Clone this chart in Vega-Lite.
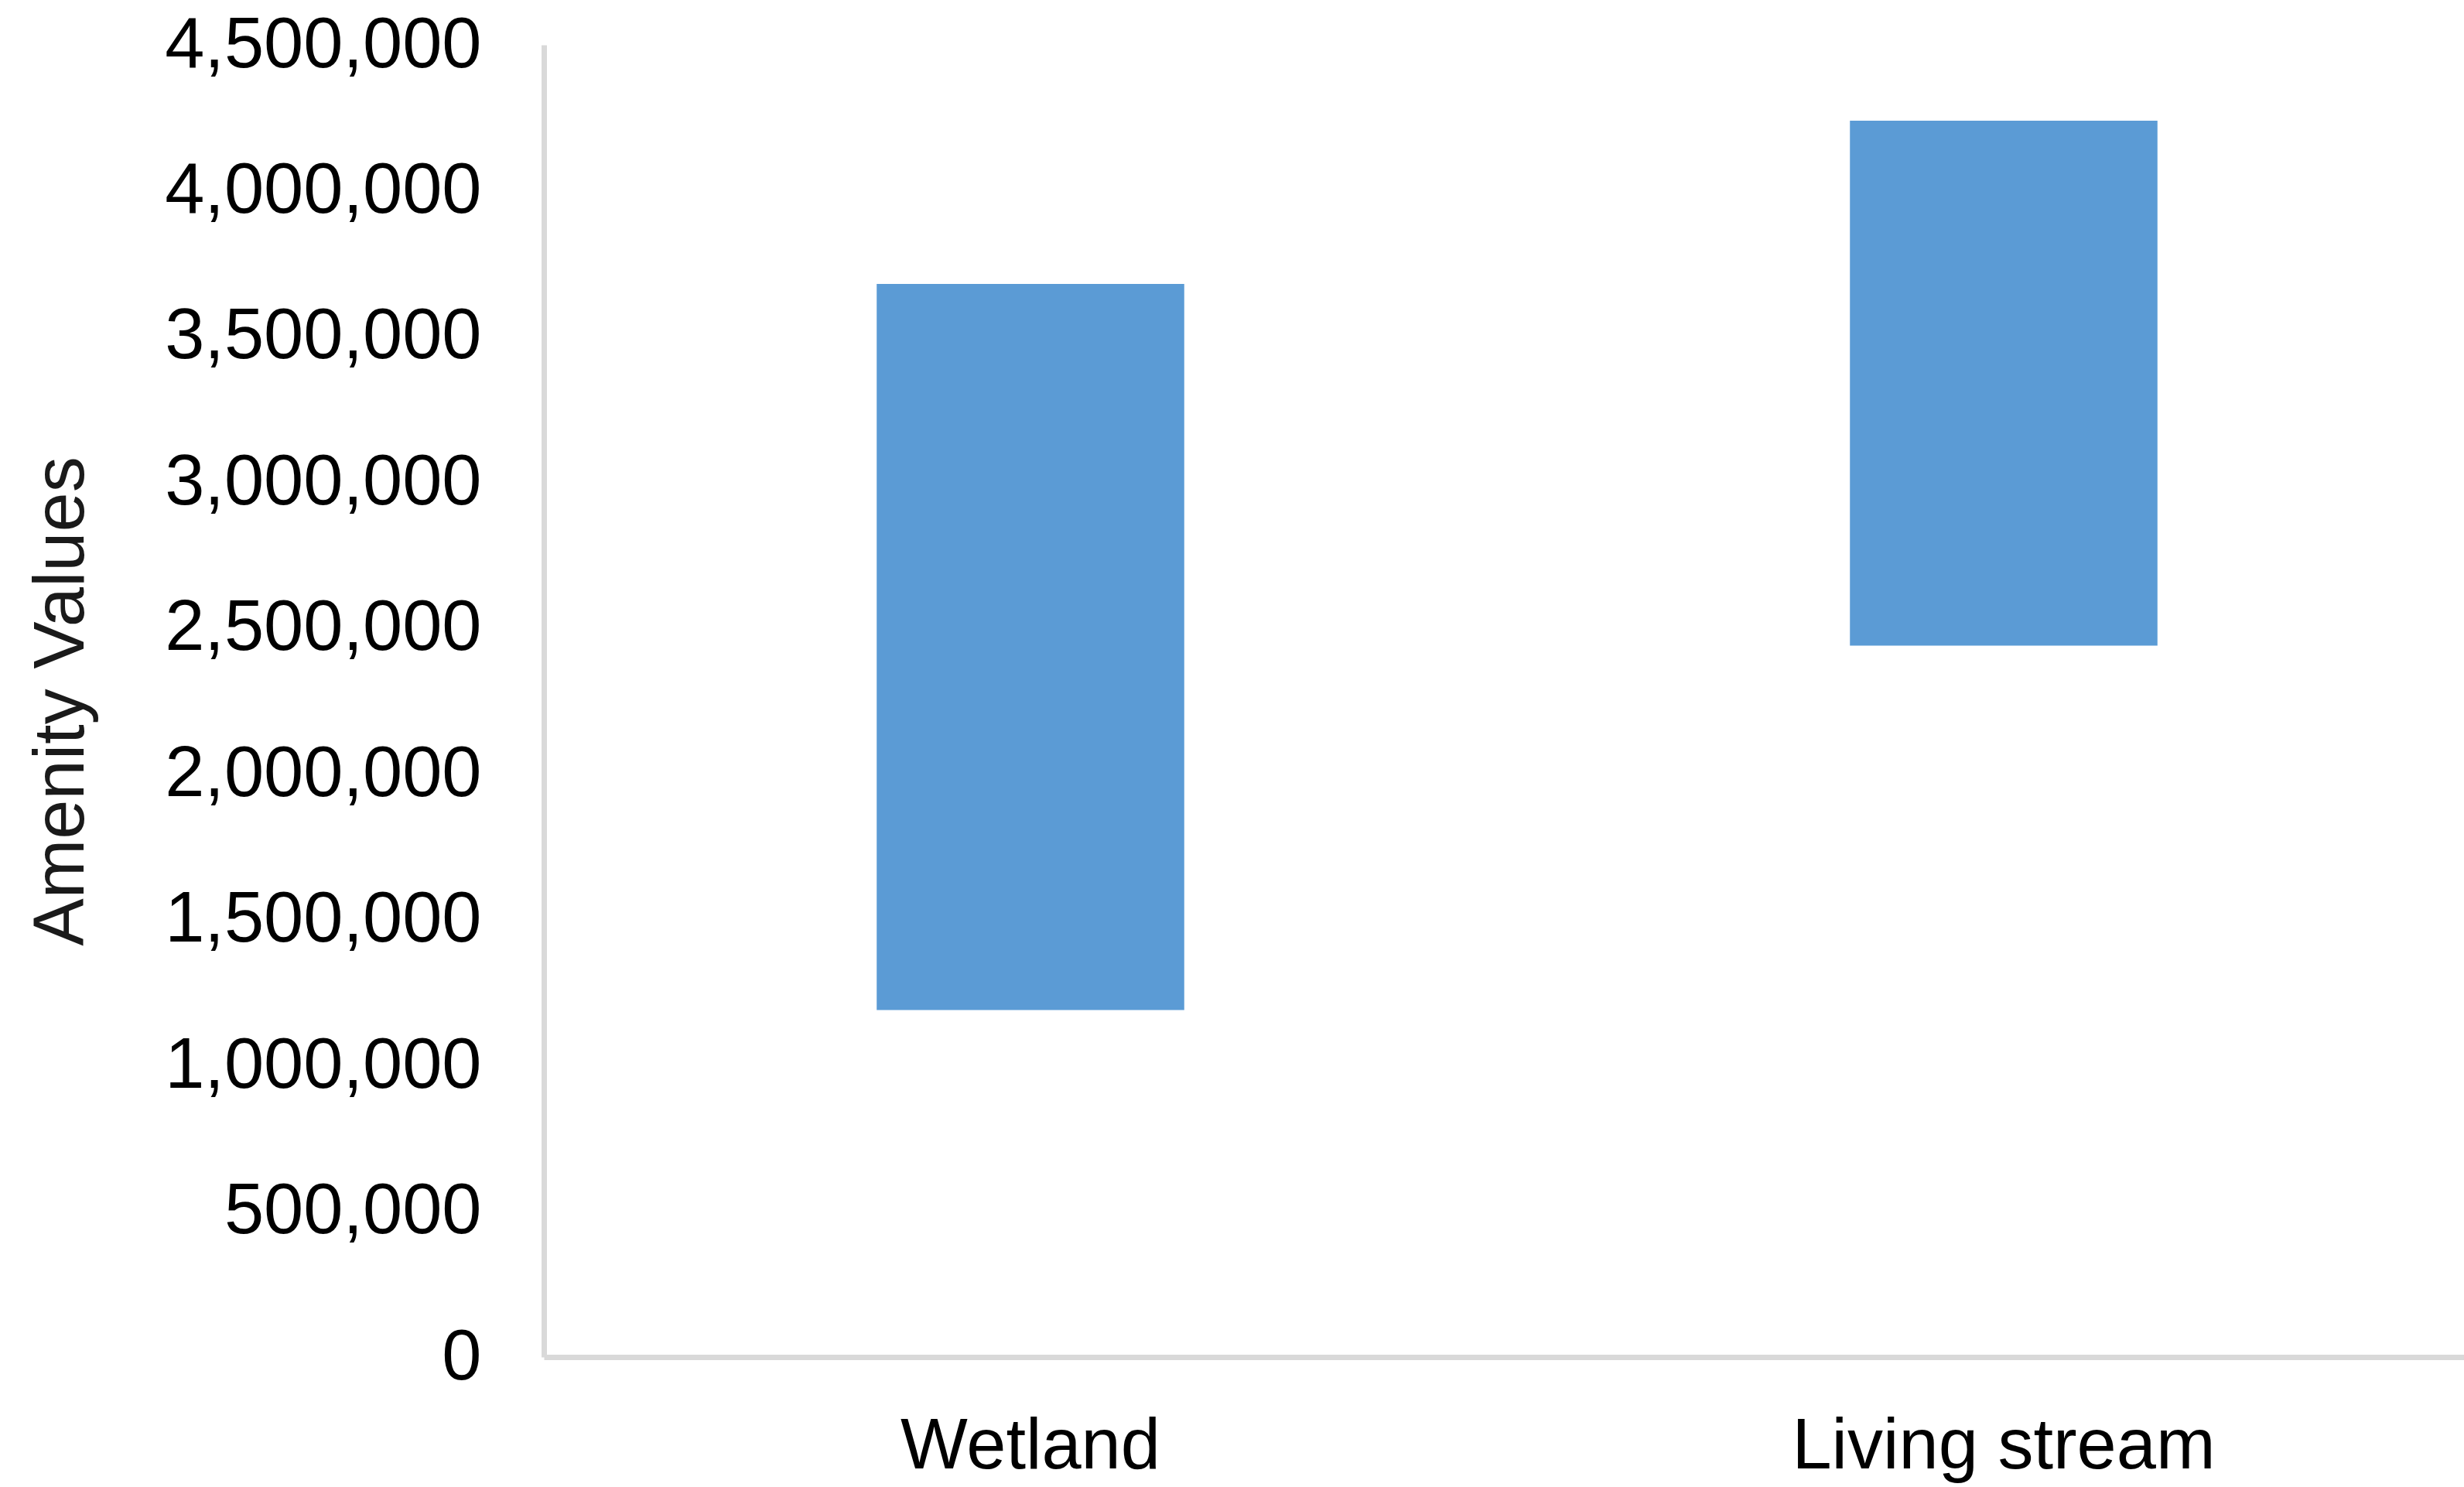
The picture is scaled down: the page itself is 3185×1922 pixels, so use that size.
{
  "$schema": "https://vega.github.io/schema/vega-lite/v6.json",
  "autosize": {"type": "none"},
  "padding": {"left": 703, "top": 58, "right": 0, "bottom": 168},
  "width": 2516,
  "height": 1696,
  "background": "#ffffff",
  "data": {
    "values": [
      {"option": "Wetland", "low": 1190000, "high": 3680000},
      {"option": "Living stream", "low": 2440000, "high": 4240000}
    ]
  },
  "mark": {"type": "bar", "color": "#5B9BD5"},
  "encoding": {
    "x": {
      "field": "option",
      "type": "nominal",
      "sort": ["Wetland", "Living stream"],
      "scale": {"paddingInner": 0.684, "paddingOuter": 0.342},
      "axis": {
        "title": null,
        "labelAngle": 0,
        "labelFont": "Liberation Sans",
        "labelFontSize": 92,
        "labelColor": "#000000",
        "labelBaseline": "alphabetic",
        "labelPadding": 143,
        "labelLimit": 0,
        "ticks": false,
        "tickSize": 0,
        "domainColor": "#D9D9D9",
        "domainWidth": 7,
        "grid": false
      }
    },
    "y": {
      "field": "low",
      "type": "quantitative",
      "scale": {"domain": [0, 4500000], "nice": false, "zero": true},
      "axis": {
        "title": "Amenity Values",
        "titleFont": "Liberation Sans",
        "titleFontSize": 92,
        "titleFontWeight": "normal",
        "titleColor": "#1a1a1a",
        "titleBaseline": "alphabetic",
        "titleAngle": 270,
        "titleX": -596,
        "titleY": 848,
        "values": [0, 500000, 1000000, 1500000, 2000000, 2500000, 3000000, 3500000, 4000000, 4500000],
        "format": ",d",
        "labelFont": "Liberation Sans",
        "labelFontSize": 92,
        "labelColor": "#000000",
        "labelPadding": 81,
        "labelLimit": 0,
        "labelOverlap": false,
        "ticks": false,
        "tickSize": 0,
        "domainColor": "#D9D9D9",
        "domainWidth": 7,
        "grid": false
      }
    },
    "y2": {"field": "high"}
  },
  "config": {
    "view": {"stroke": null}
  }
}
